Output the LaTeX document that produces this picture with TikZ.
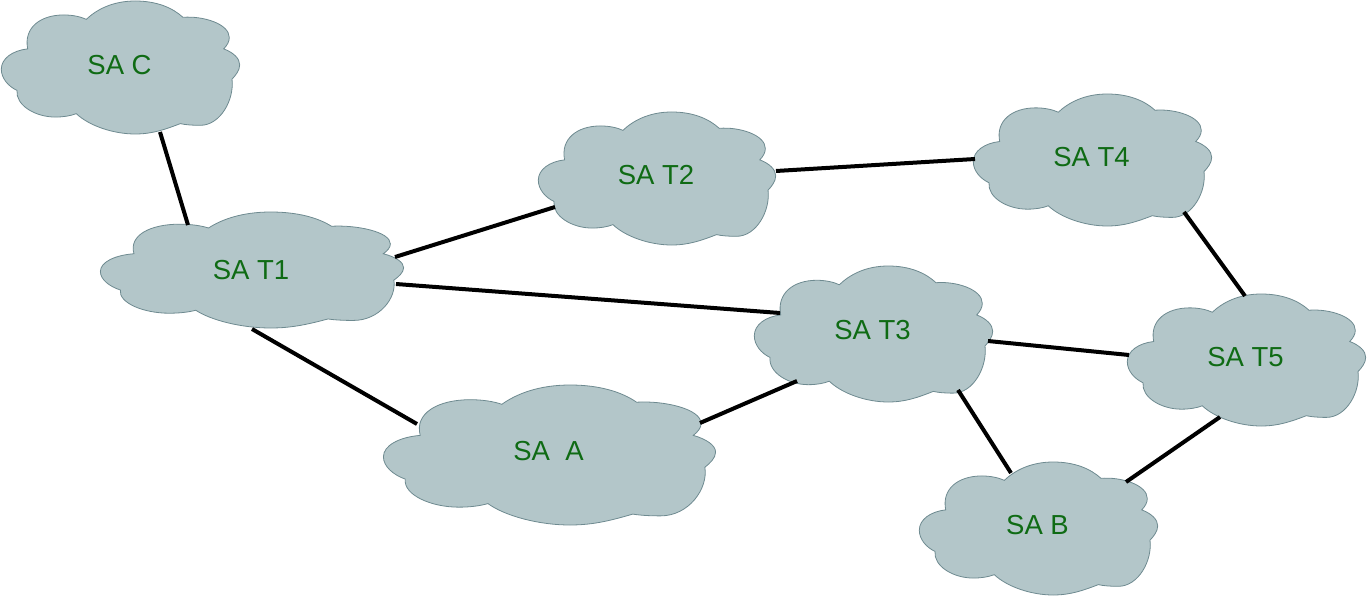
\documentclass[tikz,border=0pt]{standalone}
\usepackage{fontspec}
\usepackage{xcolor}
\setmainfont{Liberation Sans}
\definecolor{cloudfill}{HTML}{B3C6C9}
\definecolor{cloudline}{HTML}{6E8A90}
\definecolor{salabel}{HTML}{0F6B14}
\newcommand{\cloudoutline}{(-34.2,-48.3)
        .. controls (-24,-58) and (-8,-66.7) .. (14.8,-66.7)
        .. controls (36,-66.7) and (52,-60) .. (62.5,-50.3)
        .. controls (82,-52) and (108.8,-44) .. (108.8,-30)
        .. controls (108.8,-26) and (106.5,-22) .. (103.2,-18.7)
        .. controls (113,-15) and (119.2,-9) .. (119.2,-2.7)
        .. controls (119.2,3) and (115,8) .. (111.5,11.7)
        .. controls (114,32) and (100,58) .. (79.8,58)
        .. controls (72,58) and (65,57.5) .. (59.8,56.3)
        .. controls (45,62) and (32,66.7) .. (14.8,66.7)
        .. controls (-8,66.7) and (-32,58) .. (-44.2,46.3)
        .. controls (-50,48.5) and (-57,49.7) .. (-65.2,49.7)
        .. controls (-85,49.7) and (-105,38) .. (-103.5,23)
        .. controls (-112,19) and (-119.2,11) .. (-119.2,1.7)
        .. controls (-119.2,-9) and (-108,-17) .. (-92.8,-18.7)
        .. controls (-97,-40) and (-80,-52.7) .. (-56.8,-52.7)
        .. controls (-48,-52.7) and (-40,-51) .. (-34.2,-48.3) -- cycle}
\tikzset{
    cloudbody/.style={fill=cloudfill, draw=cloudline, line width=0.8pt},
    salabelnode/.style={text=salabel, font=\fontsize{27.5}{30}\selectfont, inner sep=0pt},
    satlink/.style={draw=black, line width=4pt}
}

\begin{document}
\begin{tikzpicture}[x=1pt, y=-1pt]
        \useasboundingbox (0,0) rectangle (1367,596);
        \foreach \nm/\cx/\cy/\w/\h/\dep/\lab in {
            saC/120.5/67.5/239/133/6/{SA C},
            saTone/252/270/304/116/0/{SA T1},
            saTtwo/657/178.5/238/133/8/{SA T2},
            saTfour/1092.5/160/239/132/6/{SA T4},
            saTthree/873.5/334/239/136/8/{SA T3},
            saTfive/1246.5/360/239/132/6/{SA T5},
            saA/549.5/455/333/140/8/{SA\ \ A},
            saB/1038.5/528.5/239/133/8/{SA B}} {
            \begin{scope}[shift={(\cx,\cy)}, xscale=\w/239, yscale=\h/133.4]
                \path[cloudbody] \cloudoutline;
            \end{scope}
            \node[salabelnode, text depth=\dep pt, minimum width=\w pt, minimum height=\h pt, xshift=-1pt] (\nm) at (\cx,\cy) {\lab};
        }
        \draw[satlink] ([shift={(40.5,64.5)}]saC.center) -- ([shift={(-63,-45)}]saTone.center);
        \draw[satlink] ([shift={(144,-13)}]saTone.center) -- ([shift={(-101,28.5)}]saTtwo.center);
        \draw[satlink] ([shift={(145,14)}]saTone.center) -- ([shift={(-92.5,-21)}]saTthree.center);
        \draw[satlink] ([shift={(1,59)}]saTone.center) -- ([shift={(-131.5,-31)}]saA.center);
        \draw[satlink] ([shift={(120,-7.5)}]saTtwo.center) -- ([shift={(-116.5,-1)}]saTfour.center);
        \draw[satlink] ([shift={(-75.5,47)}]saTthree.center) -- ([shift={(151.5,-32)}]saA.center);
        \draw[satlink] ([shift={(115.5,7)}]saTthree.center) -- ([shift={(-116.5,-5)}]saTfive.center);
        \draw[satlink] ([shift={(85.5,56)}]saTthree.center) -- ([shift={(-26.5,-55.5)}]saB.center);
        \draw[satlink] ([shift={(92.5,52)}]saTfour.center) -- ([shift={(-0.5,-64)}]saTfive.center);
        \draw[satlink] ([shift={(-25.5,57)}]saTfive.center) -- ([shift={(88.5,-46.5)}]saB.center);
\end{tikzpicture}
\end{document}
